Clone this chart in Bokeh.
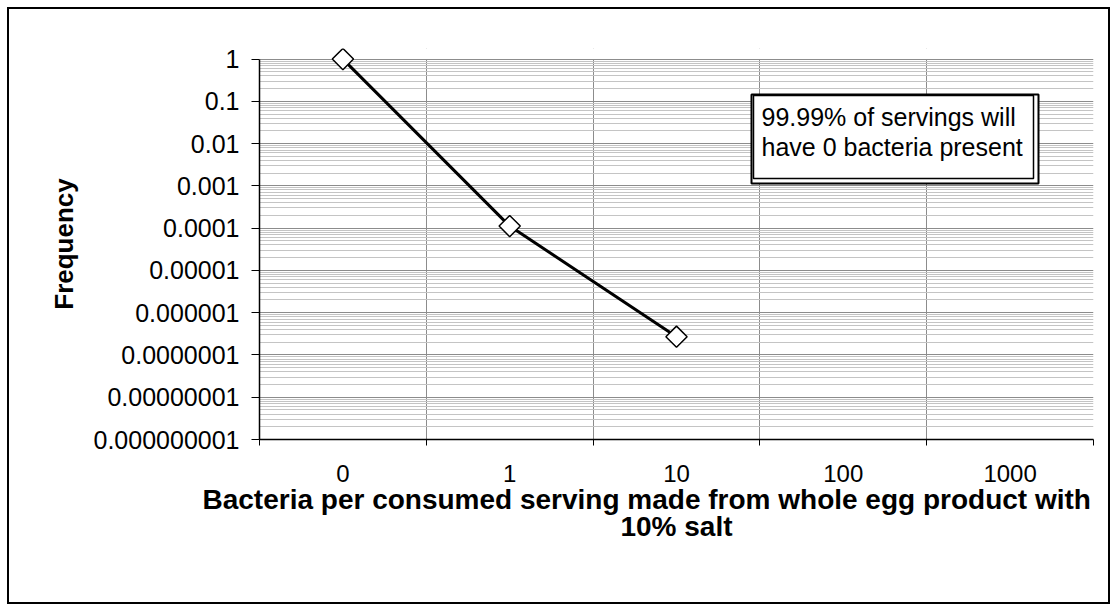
import math
from bokeh.plotting import figure
from bokeh.models import (Range1d, FixedTicker, CustomJSTickFormatter, BoxAnnotation, Label,
                          InlineStyleSheet, Title)
from bokeh.embed import file_html
from bokeh.resources import INLINE

# ---- data ----
categories = ["0", "1", "10", "100", "1000"]
freq_categories = ["0", "1", "10"]
frequency = [1.0, 1.12e-4, 2.7e-7]
ytick_values = [1e-9, 1e-8, 1e-7, 1e-6, 1e-5, 1e-4, 1e-3, 1e-2, 1e-1, 1.0]
ytick_labels = ["0.000000001", "0.00000001", "0.0000001", "0.000001", "0.00001",
                "0.0001", "0.001", "0.01", "0.1", "1"]
note_lines = ["99.99% of servings will", "have 0 bacteria present"]
x_title_lines = ["Bacteria per consumed serving made from whole egg product with", "10% salt"]
y_title = "Frequency"

FONT = "Liberation Sans"

n = len(categories)
y_top = 10 ** 0.25  # small headroom so the top marker is not clipped
p = figure(width=1116, height=611, y_axis_type="log",
           x_range=Range1d(0, n), y_range=Range1d(ytick_values[0], y_top),
           output_backend="svg", toolbar_location=None,
           min_border_left=259, min_border_right=23, min_border_top=48, min_border_bottom=172)
p.outline_line_color = None
p.background_fill_color = "white"
p.border_fill_color = "white"
p.stylesheets = [InlineStyleSheet(css="""
:host { position: relative; }
:host::after { content: ""; position: absolute; left: 7px; top: 7px; width: 1103px; height: 597px;
  box-sizing: border-box; border: 2px solid black; pointer-events: none; z-index: 100; }
""")]

# x axis: labels at category centres, ticks at category boundaries
centres = [i + 0.5 for i in range(n)]
bounds = [float(i) for i in range(n + 1)]
p.xaxis.ticker = FixedTicker(ticks=centres, minor_ticks=bounds)
p.xaxis.formatter = CustomJSTickFormatter(args=dict(labels=categories),
                                          code="return labels[Math.floor(tick)];")
p.xaxis.major_tick_line_color = None
p.xaxis.minor_tick_line_color = "black"
p.xaxis.minor_tick_in = 0
p.xaxis.minor_tick_out = 6
p.xaxis.axis_line_color = "black"
p.xaxis.axis_line_width = 1.5
p.xaxis.major_label_text_font = FONT
p.xaxis.major_label_text_font_size = "24px"
p.xaxis.major_label_text_color = "black"
p.xaxis.major_label_standoff = 19

p.xgrid.ticker = FixedTicker(ticks=bounds[1:])
p.xgrid.grid_line_color = "#8c8c8c"
p.xgrid.grid_line_width = 1

# x-axis title, two lines below the axis
t1 = Title(text=x_title_lines[0], align="left", offset=-57, standoff=-5,
           text_font=FONT, text_font_size="28px", text_font_style="bold", text_color="black")
t2 = Title(text=x_title_lines[1], align="center", standoff=-8,
           text_font=FONT, text_font_size="28px", text_font_style="bold", text_color="black")
p.add_layout(t1, "below")
p.add_layout(t2, "below")

# y axis: log decades
minor = [k * v for v in ytick_values[:-1] for k in range(2, 10)]
yt = FixedTicker(ticks=ytick_values, minor_ticks=minor)
p.yaxis.ticker = yt
p.yaxis.bounds = (ytick_values[0], ytick_values[-1])
p.yaxis.formatter = CustomJSTickFormatter(args=dict(labels=ytick_labels),
                                          code="return labels[Math.round(9 + Math.log10(tick))];")
p.yaxis.minor_tick_line_color = None
p.yaxis.major_tick_in = 0
p.yaxis.major_tick_out = 8
p.yaxis.major_tick_line_color = "black"
p.yaxis.axis_line_color = "black"
p.yaxis.axis_line_width = 1.5
p.yaxis.major_label_text_font = FONT
p.yaxis.major_label_text_font_size = "25px"
p.yaxis.major_label_text_color = "black"
p.yaxis.major_label_standoff = 12
p.yaxis.axis_label = y_title
p.yaxis.axis_label_text_font = FONT
p.yaxis.axis_label_text_font_style = "bold"
p.yaxis.axis_label_text_font_size = "26px"
p.yaxis.axis_label_text_color = "black"
p.yaxis.axis_label_standoff = 12

p.ygrid.ticker = yt
p.ygrid.grid_line_color = "#8c8c8c"
p.ygrid.minor_grid_line_color = "#c4c4c4"

# white strip above the top decade so the grid stops at 1
p.add_layout(BoxAnnotation(bottom=ytick_values[-1], top=y_top, fill_color="white", fill_alpha=1,
                           line_alpha=0, level="underlay"))

# series
xs = [categories.index(c) + 0.5 for c in freq_categories]
p.line(xs, frequency, line_color="black", line_width=3)
p.scatter(xs, frequency, marker="square", angle=math.pi / 4, size=15, fill_color="white",
          line_color="black", line_width=1.5)

# note box with shadow
p.add_layout(BoxAnnotation(left=751, right=1038, top=94, bottom=183,
                           left_units="canvas", right_units="canvas",
                           top_units="canvas", bottom_units="canvas",
                           fill_color="white", fill_alpha=1, line_color="black", line_alpha=1,
                           line_width=2, level="overlay"))
p.add_layout(BoxAnnotation(left=753, right=1033, top=95, bottom=178,
                           left_units="canvas", right_units="canvas",
                           top_units="canvas", bottom_units="canvas",
                           fill_color="white", fill_alpha=1, line_color="black", line_alpha=1,
                           line_width=1.5, level="overlay"))
for i, t in enumerate(note_lines):
    p.add_layout(Label(x=761, y=116 + 30 * i, x_units="canvas", y_units="canvas", text=t,
                       text_font=FONT, text_font_size="25px", text_baseline="middle",
                       text_color="black", text_align="left", level="overlay"))

open("out.html", "w").write(file_html(p, INLINE))
